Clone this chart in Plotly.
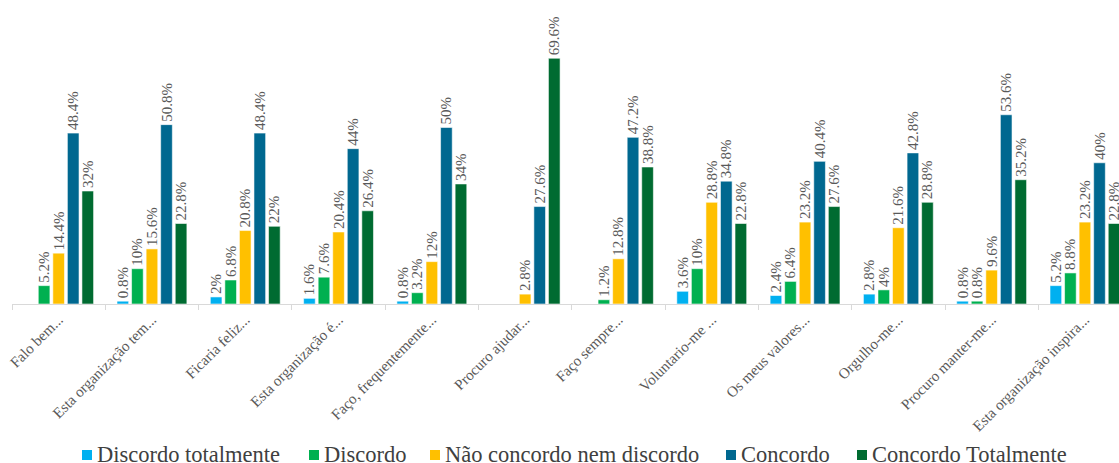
import plotly.graph_objects as go

# Survey items (truncated statements) and Likert response shares (%)
categories = [
    "Falo bem...",
    "Esta organização tem...",
    "Ficaria feliz...",
    "Esta organização é...",
    "Faço, frequentemente...",
    "Procuro ajudar...",
    "Faço sempre...",
    "Voluntario-me ...",
    "Os meus valores...",
    "Orgulho-me...",
    "Procuro manter-me...",
    "Esta organização inspira...",
]

discordo_totalmente = [0, 0.8, 2, 1.6, 0.8, 0, 0, 3.6, 2.4, 2.8, 0.8, 5.2]
discordo = [5.2, 10, 6.8, 7.6, 3.2, 0, 1.2, 10, 6.4, 4, 0.8, 8.8]
nem_nem = [14.4, 15.6, 20.8, 20.4, 12, 2.8, 12.8, 28.8, 23.2, 21.6, 9.6, 23.2]
concordo = [48.4, 50.8, 48.4, 44, 50, 27.6, 47.2, 34.8, 40.4, 42.8, 53.6, 40]
concordo_totalmente = [32, 22.8, 22, 26.4, 34, 69.6, 38.8, 22.8, 27.6, 28.8, 35.2, 22.8]

series = [
    ("Discordo totalmente", discordo_totalmente, "#00B0F0"),
    ("Discordo", discordo, "#00B050"),
    ("Não concordo nem discordo", nem_nem, "#FFC000"),
    ("Concordo", concordo, "#006890"),
    ("Concordo Totalmente", concordo_totalmente, "#006B31"),
]

FONT = "Liberation Serif"
TEXT_GREY = "#595959"
LEGEND_GREY = "#404040"

W, H = 1119, 463
M_L, M_R, M_T, M_B = 12, 0, 0, 159
PLOT_W = W - M_L - M_R
PLOT_H = H - M_T - M_B

fig = go.Figure()
for name, values, color in series:
    fig.add_trace(go.Bar(
        name=name,
        x=categories,
        y=values,
        marker=dict(color=color, line=dict(color="rgba(255,255,255,0.7)", width=0.8)),
        text=[f"{v:g}%" if v else "" for v in values],
        textposition="outside",
        textangle=-90,
        constraintext="none",
        cliponaxis=False,
        textfont=dict(family=FONT, size=15, color=TEXT_GREY),
        showlegend=False,
    ))


def px_to_paper_x(px):
    return (px - M_L) / PLOT_W


def px_to_paper_y(py):
    return (H - M_B - py) / PLOT_H


# Compact legend row under the category labels: coloured square + label
legend_left = [82, 309, 430, 726, 857]
square = 10
legend_mid_y = 455
for (name, _, color), left in zip(series, legend_left):
    fig.add_shape(
        type="rect",
        xref="paper", yref="paper",
        x0=px_to_paper_x(left), x1=px_to_paper_x(left + square),
        y0=px_to_paper_y(legend_mid_y + square / 2),
        y1=px_to_paper_y(legend_mid_y - square / 2),
        fillcolor=color,
        line=dict(width=0),
    )
    fig.add_annotation(
        xref="paper", yref="paper",
        x=px_to_paper_x(left + square + 3),
        y=px_to_paper_y(legend_mid_y - 1),
        xanchor="left", yanchor="middle",
        text=name,
        showarrow=False,
        font=dict(family=FONT, size=22.5, color=LEGEND_GREY),
    )

fig.update_layout(
    width=W,
    height=H,
    margin=dict(l=M_L, r=M_R, t=M_T, b=M_B, autoexpand=False),
    paper_bgcolor="white",
    plot_bgcolor="white",
    barmode="group",
    bargap=0.22,
    bargroupgap=0.2,
    font=dict(family=FONT, color=TEXT_GREY),
    showlegend=False,
    xaxis=dict(
        range=[-0.5, 11.365],
        automargin=False,
        tickangle=-45,
        tickfont=dict(family=FONT, size=15, color=TEXT_GREY),
        showline=True,
        linecolor="#D9D9D9",
        linewidth=1,
        ticks="outside",
        tickson="boundaries",
        ticklen=5,
        tickcolor="#D9D9D9",
        showgrid=False,
    ),
    yaxis=dict(
        range=[0, 86.1],
        visible=False,
        showgrid=False,
        zeroline=False,
    ),
)

fig.write_html("out.html")
